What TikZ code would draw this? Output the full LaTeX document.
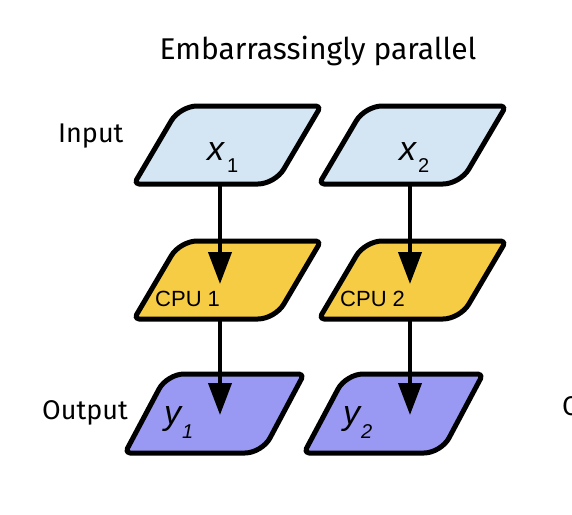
\documentclass[tikz,border=0pt]{standalone}
\usepackage{fontspec}
\setmainfont{Fira Sans}
\newfontfamily\arialfont{Liberation Sans}
\usetikzlibrary{arrows.meta}
\definecolor{inblue}{RGB}{212,229,243}
\definecolor{cpuyel}{RGB}{246,204,68}
\definecolor{outpur}{RGB}{153,153,244}
\newcommand{\parashape}[6]{%
  \path[draw=black, line width=5, line join=round, fill=#6]
    ({#1+#3/2}, #2) [rounded corners=5] -- (#1, #2)
    [rounded corners=17] -- ({#1+#5}, {#2-#4})
    [rounded corners=5] -- ({#1+#5+#3}, {#2-#4})
    [rounded corners=17] -- ({#1+#3}, #2)
    [sharp corners] -- cycle;}
\begin{document}
\begin{tikzpicture}[x=1pt, y=-1pt,
  hand/.style={font=\fontsize{27}{27}\selectfont, inner sep=0, anchor=base west},
  cpulabel/.style={font=\arialfont\fontsize{22}{22}\selectfont, inner sep=0, anchor=base west},
  mainsym/.style={font=\arialfont\itshape\fontsize{34}{34}\selectfont, inner sep=0, anchor=base west},
  subsym/.style={font=\arialfont\fontsize{20}{20}\selectfont, inner sep=0, anchor=base west},
  subsymit/.style={font=\arialfont\itshape\fontsize{20}{20}\selectfont, inner sep=0, anchor=base west},
  flow/.style={line width=4, -{Triangle[length=32pt,width=23pt]}}]
\useasboundingbox (0,0) rectangle (572,514);
% title and row labels
\node[hand, font=\fontsize{30}{30}\selectfont, anchor=base] (title) at (318,59) {Embarrassingly parallel};
\node[hand] (inlab) at (58,142) {Input};
\node[hand] (outlab) at (42,419) {Output};
\node[hand] (outlab2) at (562,415) {Output};
% shapes
\parashape{134}{184}{141}{78}{46}{inblue}
\parashape{319}{184}{141}{78}{46}{inblue}
\parashape{134}{319}{141}{78}{46}{cpuyel}
\parashape{319}{319}{141}{78}{46}{cpuyel}
\parashape{125}{453}{137}{79}{42}{outpur}
\parashape{304}{453}{137}{79}{42}{outpur}
% labels in shapes
\node[mainsym] (x1) at (207,160) {x};
\node[subsym] (x1s) at (227,172) {1};
\node[mainsym] (x2) at (399,160) {x};
\node[subsym] (x2s) at (418,172) {2};
\node[cpulabel] (c1) at (155,306) {CPU 1};
\node[cpulabel] (c2) at (340,306) {CPU 2};
\node[mainsym] (y1) at (164,424) {y};
\node[subsymit] (y1s) at (182,438) {1};
\node[mainsym] (y2) at (343,424) {y};
\node[subsymit] (y2s) at (361,438) {2};
% connector end points
\coordinate (a1s) at (220,184);
\coordinate (a1e) at (220,284);
\coordinate (b1s) at (220,319);
\coordinate (b1e) at (220,415);
\coordinate (a2s) at (410,184);
\coordinate (a2e) at (410,284);
\coordinate (b2s) at (410,319);
\coordinate (b2e) at (410,415);
\draw[flow] (a1s) -- (a1e);
\draw[flow] (b1s) -- (b1e);
\draw[flow] (a2s) -- (a2e);
\draw[flow] (b2s) -- (b2e);
\end{tikzpicture}
\end{document}
